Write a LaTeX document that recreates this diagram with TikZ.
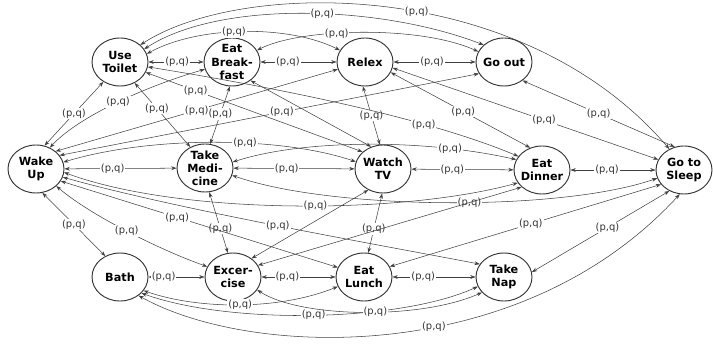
\documentclass[tikz,border=0pt]{standalone}
\usepackage{fontspec}
\setmainfont{DejaVu Sans}
\usetikzlibrary{arrows.meta,shapes.geometric}
\begin{document}
\begin{tikzpicture}[x=0.03cm,y=-0.03cm,
  state/.style={ellipse, draw=black!80, line width=0.8pt, fill=white,
    minimum width=1.68cm, minimum height=1.44cm, inner sep=-5pt,
    align=center, font=\fontsize{9.6}{11.2}\selectfont\bfseries},
  tr/.style={<->, >={Stealth[length=4.5pt,width=3.2pt]}, draw=black!75, line width=0.45pt},
  lab/.style={fill=white, inner sep=0.8pt, text=black!80, font=\fontsize{8.5}{9}\selectfont}]
\useasboundingbox (0,0) rectangle (713,346);

% activity states
\node[state] (UT) at (120,62)  {Use\\Toilet};
\node[state] (EB) at (232,62)  {Eat\\Break-\\fast};
\node[state] (RX) at (365,62)  {Relex};
\node[state] (GO) at (504,62)  {Go out};
\node[state] (WU) at (36,169)  {Wake\\Up};
\node[state] (TM) at (205,168) {Take\\Medi-\\cine};
\node[state] (WT) at (383,169) {Watch\\TV};
\node[state] (ED) at (542,170) {Eat\\Dinner};
\node[state] (GS) at (684,170) {Go to\\Sleep};
\node[state] (BA) at (120,277) {Bath};
\node[state] (EX) at (233,277) {Excer-\\cise};
\node[state] (EL) at (364,277) {Eat\\Lunch};
\node[state] (TN) at (504,277) {Take\\Nap};

% transitions within a row
\draw[tr] (UT) -- node[lab,pos=0.52]{(p,q)} (EB);
\draw[tr] (EB) -- node[lab,pos=0.36]{(p,q)} (RX);
\draw[tr] (RX) -- node[lab,pos=0.47]{(p,q)} (GO);
\draw[tr] (WU) -- node[lab,pos=0.43]{(p,q)} (TM);
\draw[tr] (TM) -- node[lab,pos=0.44]{(p,q)} (WT);
\draw[tr] (WT) -- node[lab,pos=0.40]{(p,q)} (ED);
\draw[tr] (ED) -- node[lab,pos=0.43]{(p,q)} (GS);
\draw[tr] (BA) -- node[lab,pos=0.27]{(p,q)} (EX);
\draw[tr] (EX) -- node[lab,pos=0.35]{(p,q)} (EL);
\draw[tr] (EL) -- node[lab,pos=0.37]{(p,q)} (TN);

% outer sides
\draw[tr] (WU.70) -- node[lab]{(p,q)} (UT.-130);
\draw[tr] (WU.-75) -- node[lab]{(p,q)} (BA.125);
\draw[tr] (GO.-45) -- node[lab]{(p,q)} (GS.112);
\draw[tr] (TN.10) -- node[lab,pos=0.55]{(p,q)} (GS.-125);

% between rows, short
\draw[tr] (UT.-55) -- node[lab,pos=0.4]{(p,q)} (TM.125);
\draw[tr] (EB.-95) -- node[lab,pos=0.48]{(p,q)} (TM.78);
\draw[tr] (RX.-95) -- node[lab]{(p,q)} (WT.97);
\draw[tr] (TM.-80) -- node[lab,pos=0.6]{(p,q)} (EX.102);
\draw[tr] (WT.-92) -- node[lab,pos=0.6]{(p,q)} (EL.80);

% arcs over the top row
\draw[tr] (UT.40) .. controls (240,-20) and (520,-25) .. (GS.125) node[lab,pos=0.55]{(p,q)};
\draw[tr] (UT.28) .. controls (220,0) and (380,5) .. (GO.140) node[lab,pos=0.55]{(p,q)};
\draw[tr] (UT.17) .. controls (200,25) and (290,25) .. (RX.155) node[lab,pos=0.45]{(p,q)};
\draw[tr] (EB.25) .. controls (300,28) and (420,25) .. (GO.158) node[lab,pos=0.4]{(p,q)};

% arcs under the bottom row
\draw[tr] (BA.-30) .. controls (200,310) and (280,310) .. (EL.-160) node[lab,pos=0.5]{(p,q)};
\draw[tr] (BA.-37) .. controls (230,325) and (400,322) .. (TN.-160) node[lab,pos=0.5]{(p,q)};
\draw[tr] (EX.-28) .. controls (300,318) and (420,320) .. (TN.-145) node[lab,pos=0.55]{(p,q)};
\draw[tr] (BA.-45) .. controls (250,358) and (520,368) .. (GS.-100) node[lab,pos=0.57]{(p,q)};

% long transitions, upper half
\draw[tr] (WU.57) .. controls (80,115) and (150,85) .. (EB.-165) node[lab,pos=0.5]{(p,q)};
\draw[tr] (WU.42) -- node[lab,pos=0.5]{(p,q)} (RX.-165);
\draw[tr] (WU.30) -- node[lab,pos=0.53]{(p,q)} (GO.-155);
\draw[tr] (WU.14) .. controls (150,136) and (280,136) .. (WT.165) node[lab,pos=0.6]{(p,q)};
\draw[tr] (UT.-22) -- node[lab,pos=0.23]{(p,q)} (WT.140);
\draw[tr] (EB.-45) -- (WT.118);
\draw[tr] (UT.-10) .. controls (260,85) and (420,115) .. (ED.150) node[lab,pos=0.72]{(p,q)};
\draw[tr] (RX.-22) -- node[lab,pos=0.52]{(p,q)} (ED.118);
\draw[tr] (RX.-12) -- node[lab,pos=0.57]{(p,q)} (GS.158);
\draw[tr] (TM.12) .. controls (300,140) and (420,138) .. (ED.158) node[lab,pos=0.78]{(p,q)};

% long transitions, lower half
\draw[tr] (WU.-40) .. controls (90,215) and (160,250) .. (EX.158) node[lab,pos=0.5]{(p,q)};
\draw[tr] (WU.-26) -- node[lab,pos=0.42]{(p,q)} (EL.160);
\draw[tr] (WU.-17) .. controls (180,210) and (380,245) .. (TN.152) node[lab,pos=0.5]{(p,q)};
\draw[tr] (WU.-7) .. controls (180,215) and (400,215) .. (ED.-152) node[lab,pos=0.55]{(p,q)};
\draw[tr] (TM.-15) .. controls (330,210) and (560,212) .. (GS.-163) node[lab,pos=0.55]{(p,q)};
\draw[tr] (EX.45) -- (WT.-125);
\draw[tr] (EX.25) -- (ED.-140);
\draw[tr] (EL.22) -- node[lab,pos=0.52]{(p,q)} (GS.-148);
\end{tikzpicture}
\end{document}
